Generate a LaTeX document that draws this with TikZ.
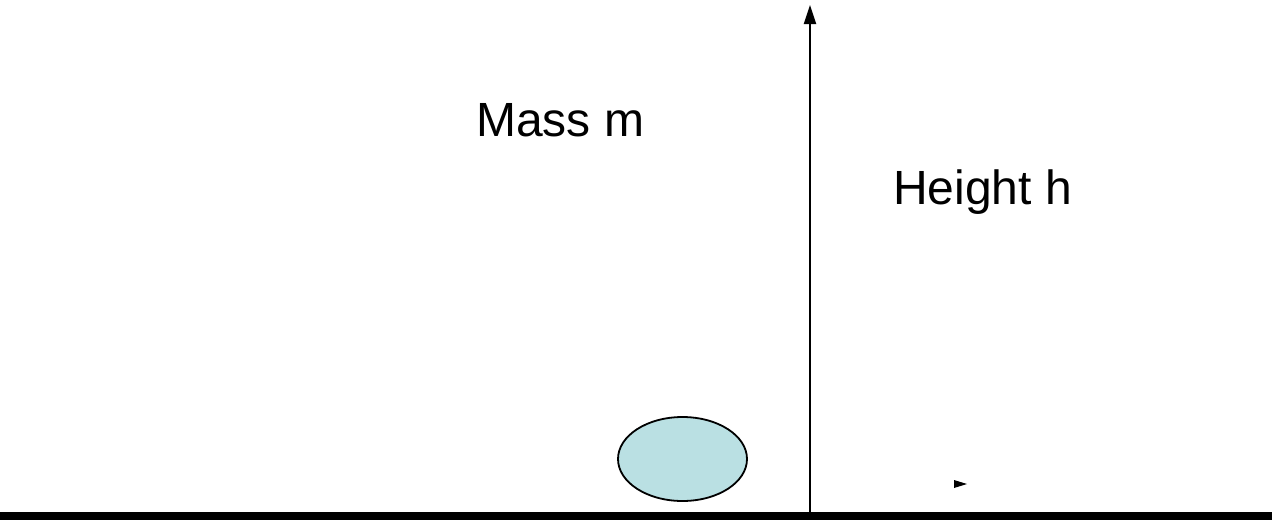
\documentclass[tikz,border=0pt]{standalone}
\usepackage{fontspec}
\setmainfont{Liberation Sans}
\usetikzlibrary{arrows.meta}
\begin{document}
\begin{tikzpicture}[x=1pt,y=-1pt,
  lbl/.style={anchor=base west,inner sep=0pt,font=\fontsize{48}{52}\selectfont},
  axis/.style={line width=2pt,-{Triangle[length=19pt,width=12pt]}}]
\definecolor{ballblue}{HTML}{BAE0E3}
\useasboundingbox (0,0) rectangle (1272,520);
\fill[black] (0,512) rectangle (1272,520);
\coordinate (base) at (810,512);
\coordinate (top) at (810,5);
\draw[axis] (base) -- (top);
\draw[draw=black,line width=1.8pt,fill=ballblue] (682.5,459) ellipse (64.5 and 42);
\node[lbl] (mass) at (476,136) {Mass m};
\node[lbl] (height) at (893,204) {Height h};
\fill[black] (954,480) -- (967,484) -- (954,488) -- cycle;
\end{tikzpicture}
\end{document}
